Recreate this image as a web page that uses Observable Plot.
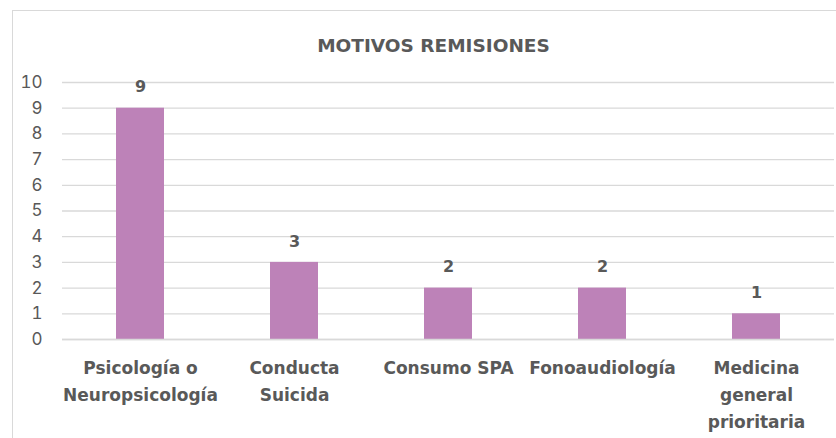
<!DOCTYPE html>
<html>
<head>
<meta charset="utf-8">
<script src="https://cdn.jsdelivr.net/npm/d3@7"></script>
<script src="https://cdn.jsdelivr.net/npm/@observablehq/plot@0.6"></script>
<style>
  html, body { margin: 0; padding: 0; background: #fff; }
  #wrap { position: relative; width: 836px; height: 438px; overflow: hidden; }
  #border { position: absolute; left: 12px; top: 10px; width: 900px; height: 500px; border: 1px solid #d9d9d9; box-sizing: border-box; }
  #chart { position: absolute; left: 0; top: 0; }
</style>
</head>
<body>
<div id="wrap"><div id="border"></div><div id="chart"></div></div>
<script>
const title = "MOTIVOS REMISIONES";
const categories = ["Psicología o\nNeuropsicología", "Conducta\nSuicida", "Consumo SPA", "Fonoaudiología", "Medicina\ngeneral\nprioritaria"];
const values = [9, 3, 2, 2, 1];
const yTicks = [0, 1, 2, 3, 4, 5, 6, 7, 8, 9, 10];

const data = categories.map((c, i) => ({cat: c, value: values[i]}));
const font = "Inter, sans-serif";
const boldFont = "'DejaVu Sans', sans-serif";
const ink = "#595959";

const plot = Plot.plot({
  width: 836,
  height: 438,
  marginTop: 82,
  marginBottom: 99,
  marginLeft: 62,
  marginRight: 2,
  style: {fontFamily: font, color: ink, background: "transparent", overflow: "visible"},
  x: {domain: categories, paddingInner: 0.69, paddingOuter: 0.345, label: null},
  y: {domain: [0, 10], label: null},
  marks: [
    Plot.gridY(yTicks, {stroke: "#d9d9d9", strokeOpacity: 1, strokeWidth: 1.3}),
    Plot.axisY(yTicks, {tickSize: 0, tickPadding: 20, fontSize: 17, fill: ink, label: null}),
    Plot.barY(data, {x: "cat", y: "value", fill: "#BD82B8"}),
    Plot.ruleY([0], {stroke: "#d9d9d9", strokeWidth: 1.3}),
    Plot.text(data, {x: "cat", y: "value", text: d => String(d.value), dy: -21, fontSize: 16, fontWeight: "bold", fontFamily: boldFont, fill: ink}),
    Plot.axisX({tickSize: 0, tickPadding: 15, fontSize: 17, fontWeight: "bold", fontFamily: boldFont, fill: ink, lineHeight: 1.59, label: null}),
    Plot.text([title], {frameAnchor: "top", dy: -44, dx: -15, fontSize: 18.5, fontWeight: "bold", fontFamily: boldFont, fill: ink})
  ]
});
document.getElementById("chart").appendChild(plot);
</script>
</body>
</html>
